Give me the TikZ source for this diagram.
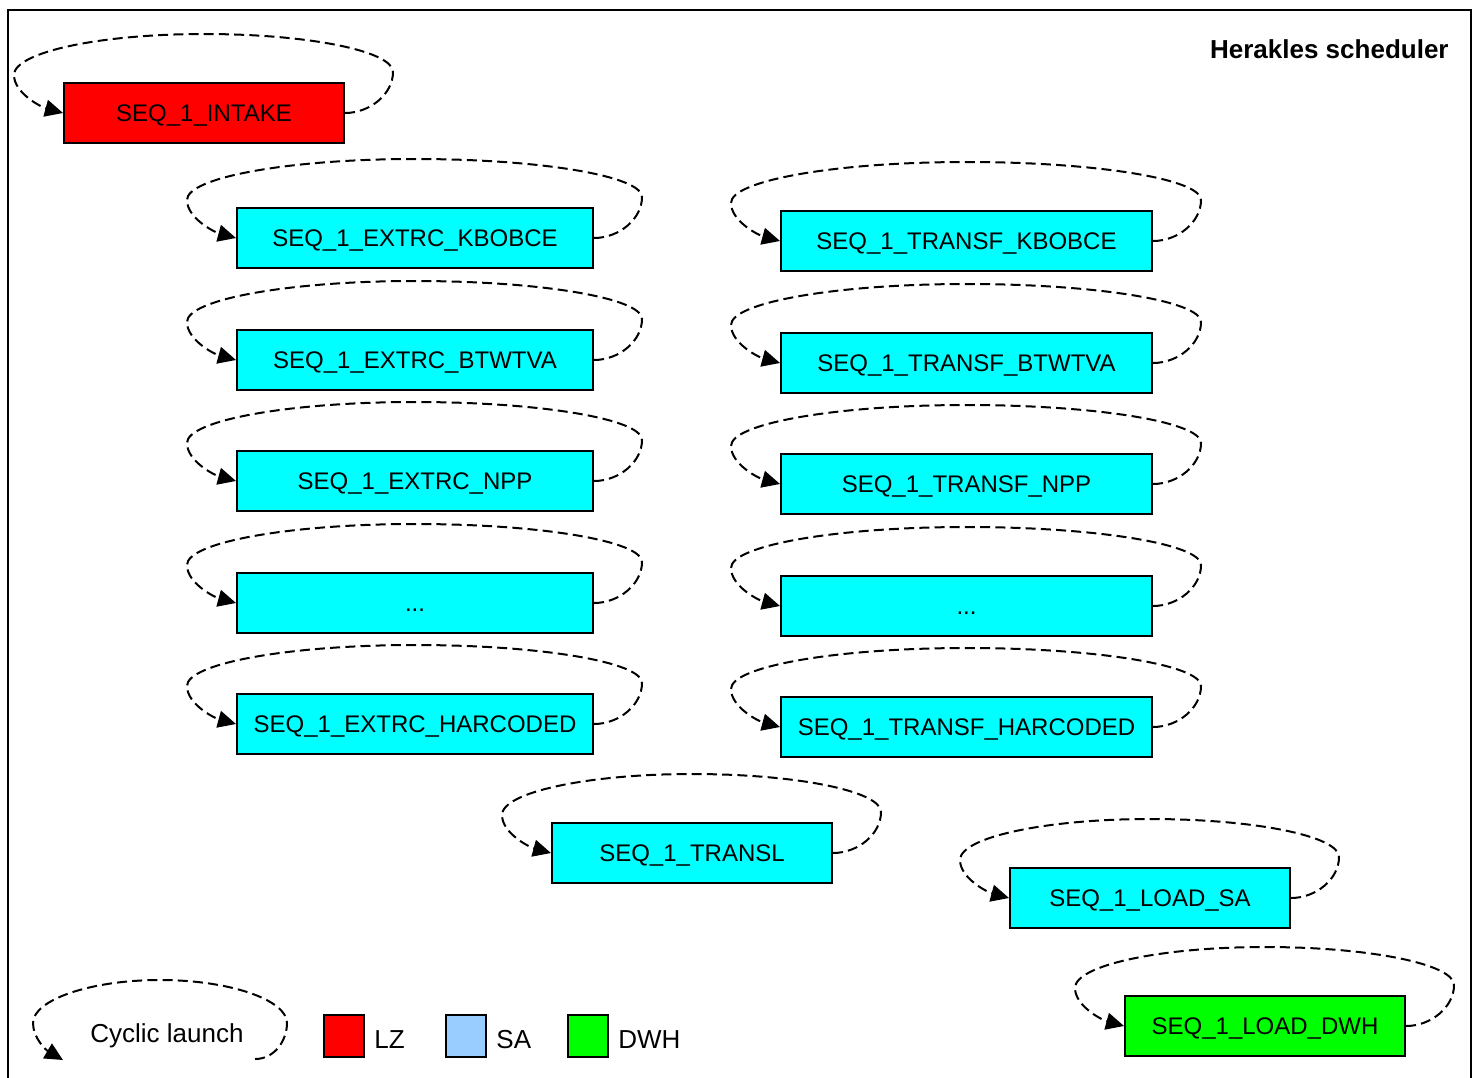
\documentclass[tikz,border=0pt]{standalone}
\usepackage{fontspec}
\setmainfont{Liberation Sans}
\usetikzlibrary{calc,arrows.meta}

\definecolor{lzred}{HTML}{FF0000}
\definecolor{seqcyan}{HTML}{00FFFF}
\definecolor{dwhgreen}{HTML}{00FF00}
\definecolor{sablue}{HTML}{99CCFF}

\tikzset{
  seqbox/.style={draw=black, line width=1pt, fill=seqcyan, minimum height=30pt,
    inner sep=0pt, text height=8.6pt, text depth=0.6pt, font=\fontsize{12}{14}\selectfont},
  shortbox/.style={seqbox, minimum width=140pt},
  extrcbox/.style={seqbox, minimum width=178pt},
  transfbox/.style={seqbox, minimum width=185.5pt},
  cycline/.style={draw=black, line width=1pt, dash pattern=on 5pt off 2.6pt,
    -{Triangle[length=9pt,width=8.5pt]}},
  legsq/.style={draw=black, line width=1pt, minimum width=20pt, minimum height=21pt, inner sep=0pt},
  legtext/.style={font=\fontsize{13}{15}\selectfont, anchor=west, inner sep=0pt,
    text height=9.3pt, text depth=0pt},
}

% dashed self-loop over the top of a job box, ending on its left side
\newcommand\cycloop[1]{%
  \coordinate (#1-R) at ($(#1.east)+(48,-41)$);
  \coordinate (#1-T) at ($(#1.north)+(0,-48)$);
  \coordinate (#1-L) at ($(#1.west)+(-49,-38)$);
  \coordinate (#1-CR) at ($(#1.north east)+(48,-48)$);
  \coordinate (#1-CL) at ($(#1.north west)+(-49,-48)$);
  \draw[cycline] (#1.east) .. controls +(25,0) and +(0,22) .. (#1-R)
    .. controls ($(#1-R)!0.552!(#1-CR)$) and ($(#1-T)!0.552!(#1-CR)$) .. (#1-T)
    .. controls ($(#1-T)!0.552!(#1-CL)$) and ($(#1-L)!0.552!(#1-CL)$) .. (#1-L)
    .. controls +(0,18) and +(-22,-6) .. (#1.west);
}

\begin{document}
\begin{tikzpicture}[x=0.5pt, y=-0.5pt]
\useasboundingbox (0,0) rectangle (1476,1077);
\fill[white] (0,0) rectangle (1476,1077);

% scheduler frame
\draw[line width=1pt] (8,1100) -- (8,10) -- (1471,10) -- (1471,1100);
\node[anchor=east, inner sep=0pt, font=\bfseries\fontsize{13}{15}\selectfont] (title) at (1449,49) {Herakles scheduler};

% landing zone
\node[shortbox, fill=lzred] (intake) at (204,113) {SEQ\_1\_INTAKE};

% extraction jobs
\node[extrcbox] (ex1) at (415,238) {SEQ\_1\_EXTRC\_KBOBCE};
\node[extrcbox] (ex2) at (415,360) {SEQ\_1\_EXTRC\_BTWTVA};
\node[extrcbox] (ex3) at (415,481) {SEQ\_1\_EXTRC\_NPP};
\node[extrcbox] (ex4) at (415,603) {...};
\node[extrcbox] (ex5) at (415,724) {SEQ\_1\_EXTRC\_HARCODED};

% transformation jobs
\node[transfbox] (tr1) at (966.5,241) {SEQ\_1\_TRANSF\_KBOBCE};
\node[transfbox] (tr2) at (966.5,363) {SEQ\_1\_TRANSF\_BTWTVA};
\node[transfbox] (tr3) at (966.5,484) {SEQ\_1\_TRANSF\_NPP};
\node[transfbox] (tr4) at (966.5,606) {...};
\node[transfbox] (tr5) at (966.5,727) {SEQ\_1\_TRANSF\_HARCODED};

% translation and loads
\node[shortbox] (transl) at (692,853) {SEQ\_1\_TRANSL};
\node[shortbox] (loadsa) at (1150,898) {SEQ\_1\_LOAD\_SA};
\node[shortbox, fill=dwhgreen] (loaddwh) at (1265,1026) {SEQ\_1\_LOAD\_DWH};

\foreach \n in {intake,ex1,ex2,ex3,ex4,ex5,tr1,tr2,tr3,tr4,tr5,transl,loadsa,loaddwh}{\cycloop{\n}}

% legend
\node[font=\fontsize{13}{15}\selectfont, inner sep=0pt, text height=9.3pt, text depth=0pt] (cyc) at (167,1033) {Cyclic launch};
\coordinate (cycstart) at (255,1059);
\coordinate (cycend) at (63,1060);
\draw[cycline] (cycstart) .. controls (275,1059) and (287,1040) .. (287,1023)
  .. controls (287,1000) and (230,980) .. (160,980)
  .. controls (90,980) and (33,1000) .. (33,1023)
  .. controls (33,1038) and (46,1050) .. (cycend);

\node[legsq, fill=lzred] (lz) at (343.5,1036) {};
\node[legtext] (lzt) at (374,1039) {LZ};
\node[legsq, fill=sablue] (sa) at (466,1036) {};
\node[legtext] (sat) at (496,1039) {SA};
\node[legsq, fill=dwhgreen] (dwh) at (588,1036) {};
\node[legtext] (dwht) at (618,1039) {DWH};
\end{tikzpicture}
\end{document}
